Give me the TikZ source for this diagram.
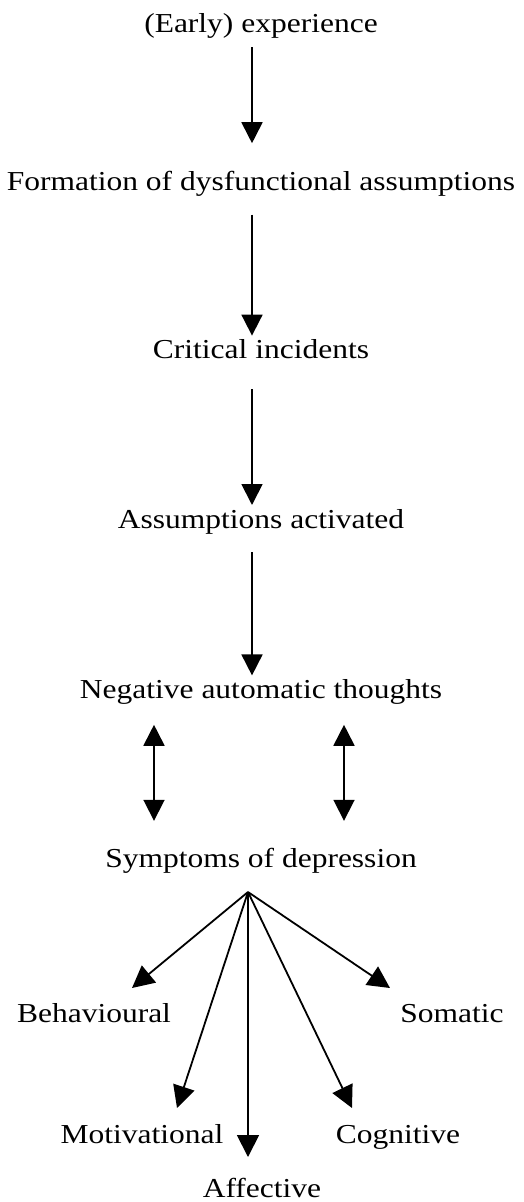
\documentclass[tikz,border=0pt]{standalone}
\usepackage{graphicx}
\usepackage{fontspec}
\setmainfont{Liberation Serif}
\usetikzlibrary{arrows.meta,positioning}

\newcommand\squash[1]{\scalebox{1}[0.87]{#1}}

\begin{document}
\begin{tikzpicture}[
  x=1pt, y=-1pt,
  stage/.style={inner sep=0pt, font=\fontsize{31.5}{38}\selectfont, text height=22pt, text depth=7pt},
  arrow/.style={-{Triangle[length=21pt,width=21pt]}, line width=1.8pt, shorten <=17pt, shorten >=1pt},
  twoway/.style={{Triangle[length=21pt,width=21pt]}-{Triangle[length=21pt,width=21pt]}, line width=1.8pt, shorten <=19pt, shorten >=24pt},
  fan/.style={-{Triangle[length=22pt,width=22pt]}, line width=1.8pt}
]
\useasboundingbox (0,0) rectangle (524,1202);

% main chain
\node[stage, anchor=base] (early) at (261,32) {\squash{(Early) experience}};
\node[stage, below=129pt of early] (formation) {\squash{Formation of dysfunctional assumptions}};
\node[stage, below=139pt of formation] (critical) {\squash{Critical incidents}};
\node[stage, below=140pt of critical] (activated) {\squash{Assumptions activated}};
\node[stage, below=141pt of activated] (nat) {\squash{Negative automatic thoughts}};
\node[stage, below=139pt of nat] (symptoms) {\squash{Symptoms of depression}};

\draw[arrow, shorten <=8pt, shorten >=25pt] ([xshift=-9pt]early.south) -- ([xshift=-9pt]formation.north);
\draw[arrow] ([xshift=-9pt]formation.south) -- ([xshift=-9pt]critical.north);
\draw[arrow, shorten <=23pt] ([xshift=-9pt]critical.south) -- ([xshift=-9pt]activated.north);
\draw[arrow] ([xshift=-9pt]activated.south) -- ([xshift=-9pt]nat.north);

\draw[twoway] ([xshift=-107pt]nat.south) -- ([xshift=-107pt]symptoms.north);
\draw[twoway] ([xshift=83pt]nat.south) -- ([xshift=83pt]symptoms.north);

% symptom types
\node[stage, anchor=base] (behav) at (94,1022) {\squash{Behavioural}};
\node[stage, anchor=base] (somatic) at (452,1022) {\squash{Somatic}};
\node[stage, anchor=base] (motiv) at (142,1143) {\squash{Motivational}};
\node[stage, anchor=base] (cogn) at (398,1143) {\squash{Cognitive}};
\node[stage, anchor=base] (affect) at (262,1197) {\squash{Affective}};

\coordinate (hub) at (248,892);
\coordinate (behavtip) at (132,988);
\coordinate (somatictip) at (390,988);
\coordinate (motivtip) at (177,1108);
\coordinate (cogntip) at (352,1108);
\coordinate (affecttip) at (248,1157);

\foreach \t in {behavtip,somatictip,motivtip,cogntip,affecttip}
  \draw[fan] (hub) -- (\t);

\end{tikzpicture}
\end{document}
